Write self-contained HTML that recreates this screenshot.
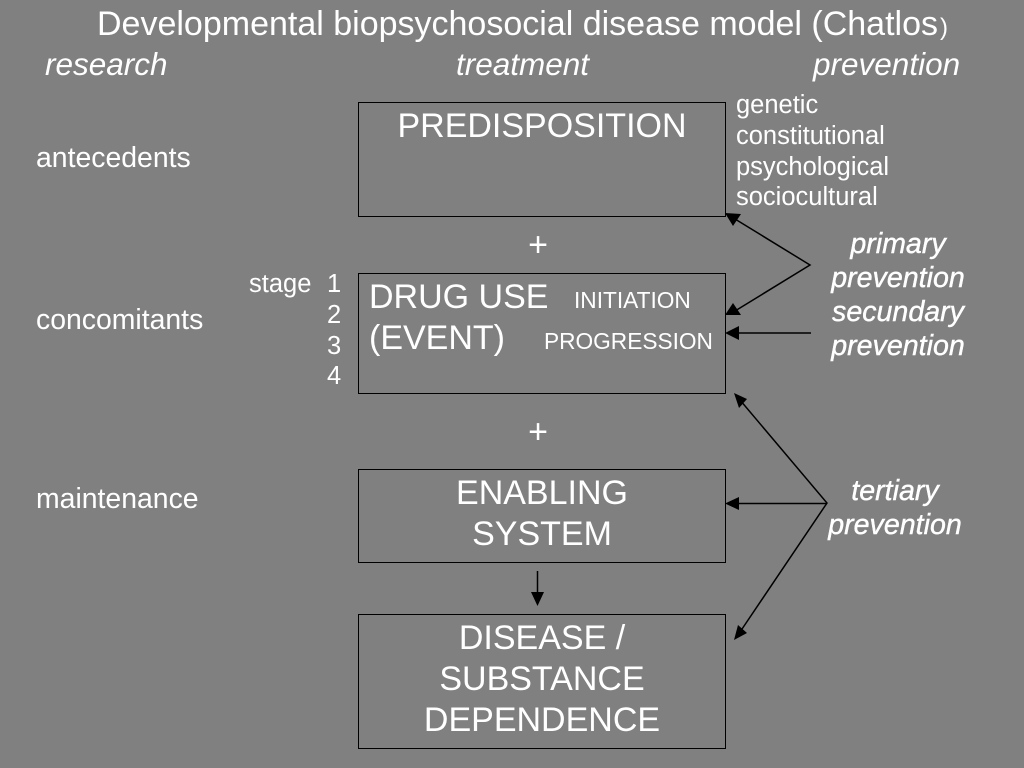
<!DOCTYPE html>
<html><head><meta charset="utf-8"><style>
html,body{margin:0;padding:0;background:#808080;width:1024px;height:768px;overflow:hidden}
svg{display:block}
text{font-family:"Liberation Sans",Arial,sans-serif;fill:#fff}
.t{font-size:34px}
.m{font-size:25.500px}
.l{font-size:28.400px}
.h{font-size:31.500px;font-style:italic}
.p{font-size:28.600px;font-style:italic;stroke:#fff;stroke-width:.4px}
.s{font-size:22.700px}
</style></head><body>
<svg width="1024" height="768" viewBox="0 0 1024 768" xmlns="http://www.w3.org/2000/svg">
<rect width="1024" height="768" fill="#808080"/>
<text x="97" y="35" class="t">Developmental biopsychosocial disease model (Chatlos<tspan font-size="24" dx="2">)</tspan></text>
<text x="45" y="75" class="h">research</text>
<text x="456" y="75" class="h">treatment</text>
<text x="813" y="75" class="h">prevention</text>

<g fill="none" stroke="#000" stroke-width="1">
<rect x="358.500" y="102.500" width="367" height="114"/>
<rect x="358.500" y="273.500" width="367" height="120"/>
<rect x="358.500" y="469.500" width="367" height="93"/>
<rect x="358.500" y="614.500" width="367" height="134"/>
</g>

<text x="542" y="137" class="t" text-anchor="middle">PREDISPOSITION</text>
<text x="736" y="113" class="m">genetic</text>
<text x="736" y="144" class="m">constitutional</text>
<text x="736" y="175" class="m">psychological</text>
<text x="736" y="205" class="m">sociocultural</text>

<text x="36" y="167" class="l">antecedents</text>
<text x="36" y="329" class="l">concomitants</text>
<text x="36" y="508" class="l">maintenance</text>

<text x="538" y="256" class="t" text-anchor="middle">+</text>
<text x="538" y="443" class="t" text-anchor="middle">+</text>

<text x="249" y="292" class="m">stage</text>
<text x="327" y="292" class="m">1</text>
<text x="327" y="323" class="m">2</text>
<text x="327" y="354" class="m">3</text>
<text x="327" y="384" class="m">4</text>

<text x="369" y="308" class="t">DRUG USE</text>
<text x="369" y="349" class="t">(EVENT)</text>
<text x="574" y="308" class="s">INITIATION</text>
<text x="544" y="349" class="s">PROGRESSION</text>

<text x="542" y="504" class="t" text-anchor="middle">ENABLING</text>
<text x="542" y="545" class="t" text-anchor="middle">SYSTEM</text>

<text x="542" y="649" class="t" text-anchor="middle">DISEASE /</text>
<text x="542" y="690" class="t" text-anchor="middle">SUBSTANCE</text>
<text x="542" y="731" class="t" text-anchor="middle">DEPENDENCE</text>

<text x="898" y="253" class="p" text-anchor="middle">primary</text>
<text x="898" y="287" class="p" text-anchor="middle">prevention</text>
<text x="898" y="321" class="p" text-anchor="middle">secundary</text>
<text x="898" y="355" class="p" text-anchor="middle">prevention</text>
<text x="895" y="500" class="p" text-anchor="middle">tertiary</text>
<text x="895" y="534" class="p" text-anchor="middle">prevention</text>

<g stroke="#000" stroke-width="1.500" fill="none">
<path d="M735 219L810 265L735 311"/>
<path d="M811 333H735"/>
<path d="M740 400L827 503L740 632"/>
<path d="M827 503.500H735"/>
<path d="M537.500 571V594"/>
</g>
<g fill="#000">
<polygon points="725,213 741,214 733,226"/>
<polygon points="725,315 733,303 741,315"/>
<polygon points="725,333 739,326 739,340"/>
<polygon points="734,393 747,399 739,408"/>
<polygon points="725,503.500 739,497 739,510"/>
<polygon points="734,640 747,633 738,625"/>
<polygon points="537.500,606 531,592 544,592"/>
</g>
</svg>
</body></html>
